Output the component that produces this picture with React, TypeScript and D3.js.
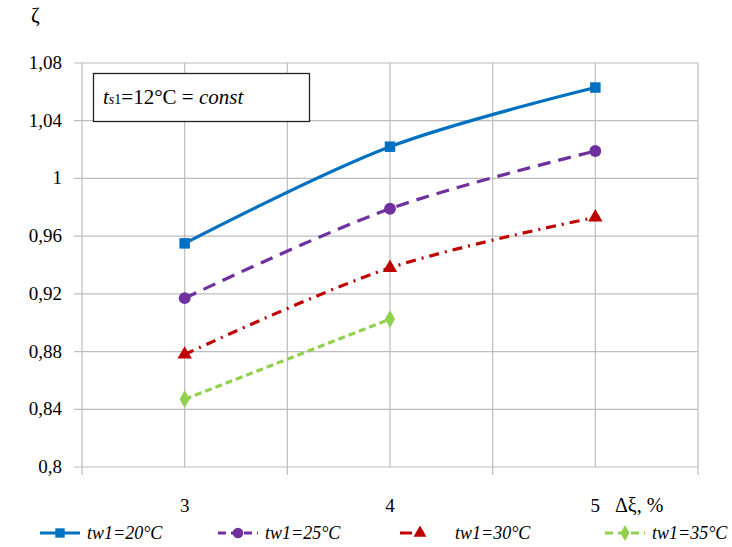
import React from 'react';
import * as d3 from 'd3';

// x categories (Δξ, %)
const deltaXi = [3, 4, 5];
const yTicks = [0.8, 0.84, 0.88, 0.92, 0.96, 1, 1.04, 1.08];
const yTickLabels = ['0,8', '0,84', '0,88', '0,92', '0,96', '1', '1,04', '1,08'];
const xGrid = [2.5, 3, 3.5, 4, 4.5, 5, 5.5];
const xTickMarks = [2.5, 3.5, 4.5, 5.5];

const seriesNames = ['tw1=20°C', 'tw1=25°C', 'tw1=30°C', 'tw1=35°C'];
const tw20 = [0.955, 1.022, 1.063];
const tw25 = [0.917, 0.979, 1.019];
const tw30 = [0.878, 0.938, 0.973];
const tw35 = [0.847, 0.9025];

const colors = ['#0070C0', '#7030A0', '#C00000', '#92D050'];
const dashes = ['none', '13,8', '10,6,2,6', '7,4'];
const legendDashes = ['none', '8,5', '12,10,2,100', '8,5'];
const symbols = [d3.symbolSquare, d3.symbolCircle, d3.symbolTriangle, d3.symbolDiamond];
const symbolSizes = [110, 110, 90, 90];
const legX = [40, 218, 400, 605];

const left = 82, right = 698, top = 63, bottom = 467;
const x = d3.scaleLinear().domain([2.5, 5.5]).range([left, right]);
const y = d3.scaleLinear().domain([0.8, 1.08]).range([bottom, top]);
const line = d3.line().curve(d3.curveCatmullRom.alpha(0.5));
const grid = '#BDBDBD';
const serif = { fontFamily: 'Liberation Serif' };
const serifIt = { fontFamily: 'Liberation Serif', fontStyle: 'italic' as const };

export default function App() {
  const all = [tw20, tw25, tw30, tw35];
  return (
    <svg width={732} height={547}
      style={{ position: 'absolute', left: 0, top: 0, background: 'white' }}>
      {yTicks.map(d => (
        <line key={'h' + d} x1={left - 8} x2={right} y1={y(d)} y2={y(d)} stroke={grid} strokeWidth={1.2} />
      ))}
      {xGrid.map(d => (
        <line key={'v' + d} x1={x(d)} x2={x(d)} y1={top} y2={bottom} stroke={grid} strokeWidth={1.2} />
      ))}
      {xTickMarks.map(d => (
        <line key={'t' + d} x1={x(d)} x2={x(d)} y1={bottom} y2={bottom + 8} stroke={grid} strokeWidth={1.2} />
      ))}
      {yTicks.map((d, i) => (
        <text key={'yl' + d} x={62} y={y(d) + 6} textAnchor="end" fontSize={19} style={serif}>{yTickLabels[i]}</text>
      ))}
      {deltaXi.map(d => (
        <text key={'xl' + d} x={x(d)} y={512} textAnchor="middle" fontSize={19} style={serif}>{d}</text>
      ))}
      <text x={615} y={512} fontSize={20} style={serif}>Δξ, %</text>
      <text x={31} y={22} fontSize={21} style={serif}>ζ</text>

      <rect x={93.5} y={73.5} width={216} height={48} fill="white" stroke="#222" strokeWidth={1.3} />
      <text x={103} y={104} fontSize={21} style={serif}>
        <tspan style={serifIt}>t</tspan>
        <tspan style={serifIt} fontSize={14}>s</tspan>
        <tspan fontSize={14}>1</tspan>
        <tspan>=12°C = </tspan>
        <tspan style={serifIt}>const</tspan>
      </text>

      {all.map((vals, i) => {
        const pts = vals.map((v, j) => [x(deltaXi[j]), y(v)] as [number, number]);
        return (
          <g key={'s' + i}>
            <path d={line(pts) || ''} fill="none" stroke={colors[i]} strokeWidth={3.2}
              strokeDasharray={dashes[i]} />
            {pts.map((p, j) => (
              <path key={j} transform={`translate(${p[0]},${p[1]})`}
                d={d3.symbol(symbols[i], symbolSizes[i])() || ''} fill={colors[i]} />
            ))}
          </g>
        );
      })}

      {seriesNames.map((name, i) => (
        <g key={'lg' + i} transform={`translate(${legX[i]},533)`}>
          <line x1={0} x2={40} y1={0} y2={0} stroke={colors[i]} strokeWidth={3.2}
            strokeDasharray={legendDashes[i]} />
          <path transform="translate(20,0)" d={d3.symbol(symbols[i], symbolSizes[i] * 0.8)() || ''}
            fill={colors[i]} />
          <text x={i === 2 ? 55 : 47} y={6} fontSize={18} style={serifIt}>{name}</text>
        </g>
      ))}
    </svg>
  );
}
